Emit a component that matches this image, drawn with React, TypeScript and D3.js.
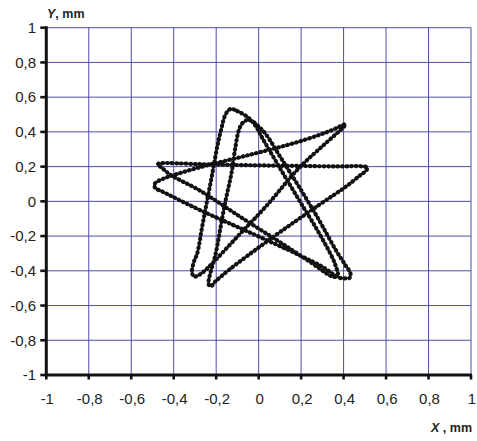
import React from "react";
import * as d3 from "d3";

// Axis ticks (both axes share the same range)
const TICK_VALUES = [-1, -0.8, -0.6, -0.4, -0.2, 0, 0.2, 0.4, 0.6, 0.8, 1];
const TICK_LABELS = ["-1", "-0,8", "-0,6", "-0,4", "-0,2", "0", "0,2", "0,4", "0,6", "0,8", "1"];

// Measured trajectory of the tool tip, mm (closed path)
const trajX = [
  -0.132, -0.101, -0.061, -0.032, -0.008, 0.017, 0.096, 0.19, 0.284, 0.35, 0.366, 0.373, 0.359, 0.336,
  0.252, 0.096, -0.093, -0.281, -0.414, -0.455, -0.476, -0.464,
  -0.281, -0.046, 0.19, 0.378, 0.482, 0.512, 0.505, 0.48,
  0.41, 0.284, 0.048, -0.14, -0.206, -0.225, -0.236, -0.232,
  -0.202, -0.179, -0.155, -0.128, -0.109, -0.093, -0.076, -0.054, -0.027, 0.001,
  0.033, 0.111, 0.19, 0.284, 0.363, 0.411, 0.432, 0.43, 0.406, 0.378,
  0.299, 0.19, -0.046, -0.266, -0.407, -0.454, -0.484, -0.493, -0.481, -0.446,
  -0.414, -0.281, -0.046, 0.19, 0.347, 0.392, 0.409, 0.402,
  0.315, 0.19, 0.033, -0.093, -0.218, -0.25, -0.281, -0.305, -0.314,
  -0.305, -0.289, -0.266, -0.242, -0.218, -0.195, -0.177, -0.155,
];
const trajY = [
  0.532, 0.52, 0.493, 0.463, 0.422, 0.365, 0.2, 0.008, -0.182, -0.332, -0.384, -0.418, -0.435, -0.427,
  -0.357, -0.232, -0.084, 0.065, 0.152, 0.192, 0.213, 0.219,
  0.214, 0.208, 0.204, 0.201, 0.202, 0.195, 0.175, 0.152,
  0.084, -0.021, -0.223, -0.395, -0.464, -0.49, -0.476, -0.436,
  -0.299, -0.146, 0.008, 0.162, 0.315, 0.411, 0.451, 0.468, 0.459, 0.43,
  0.388, 0.238, 0.084, -0.107, -0.28, -0.372, -0.413, -0.439, -0.444, -0.439,
  -0.376, -0.309, -0.177, -0.056, 0.028, 0.057, 0.074, 0.094, 0.111, 0.132,
  0.146, 0.195, 0.267, 0.344, 0.411, 0.437, 0.445, 0.431,
  0.334, 0.192, -0.031, -0.194, -0.357, -0.395, -0.424, -0.433, -0.407,
  -0.349, -0.299, -0.146, 0.008, 0.162, 0.315, 0.411, 0.503,
];

const W = 477;
const H = 441;
const PLOT = { left: 46.3, right: 471, top: 27.7, bottom: 375 };
const FONT = "'Liberation Sans', Arial, sans-serif";
const GRID = "#2f2f9a";

export default function App() {
  const x = d3.scaleLinear().domain([-1, 1]).range([PLOT.left, PLOT.right]);
  const y = d3.scaleLinear().domain([-1, 1]).range([PLOT.bottom, PLOT.top]);

  const idx = d3.range(trajX.length);
  const path = d3
    .line<number>()
    .x((i) => x(trajX[i]))
    .y((i) => y(trajY[i]))
    .curve(d3.curveCatmullRomClosed.alpha(0.5))(idx) as string;

  return (
    <svg
      width={W}
      height={H}
      viewBox={`0 0 ${W} ${H}`}
      style={{ position: "absolute", left: 0, top: 0, background: "#fff" }}
    >
      <rect x={0} y={0} width={W} height={H} fill="#fff" />

      {/* grid */}
      <g stroke={GRID} strokeWidth={1} opacity={0.85}>
        {TICK_VALUES.map((v) => (
          <line key={`gx${v}`} x1={x(v)} x2={x(v)} y1={PLOT.top} y2={PLOT.bottom} />
        ))}
        {TICK_VALUES.map((v) => (
          <line key={`gy${v}`} x1={PLOT.left} x2={PLOT.right} y1={y(v)} y2={y(v)} />
        ))}
      </g>

      {/* trajectory */}
      <path d={path} fill="none" stroke="#111" strokeWidth={1.6} strokeLinejoin="round" />
      <path
        d={path}
        fill="none"
        stroke="#111"
        strokeWidth={4.2}
        strokeDasharray="0.6 4"
        strokeLinecap="round"
      />

      {/* axes */}
      <g stroke="#111">
        <line x1={PLOT.left} x2={PLOT.left} y1={PLOT.top - 1.5} y2={PLOT.bottom + 1.5} strokeWidth={3} />
        <line x1={PLOT.left - 1.5} x2={PLOT.right + 1} y1={PLOT.bottom} y2={PLOT.bottom} strokeWidth={3} />
        {TICK_VALUES.map((v) => (
          <line key={`ty${v}`} x1={PLOT.left - 6} x2={PLOT.left} y1={y(v)} y2={y(v)} strokeWidth={2.6} />
        ))}
        {TICK_VALUES.map((v) => (
          <line key={`tx${v}`} x1={x(v)} x2={x(v)} y1={PLOT.bottom} y2={PLOT.bottom + 4.5} strokeWidth={2.6} />
        ))}
      </g>

      {/* tick labels */}
      <g fontFamily={FONT} fontSize={15} fill="#222">
        {TICK_VALUES.map((v, i) => (
          <text key={`ly${v}`} x={36} y={y(v)} dy="0.35em" textAnchor="end">
            {TICK_LABELS[i]}
          </text>
        ))}
        {TICK_VALUES.map((v, i) => (
          <text key={`lx${v}`} x={x(v) + 1} y={404} textAnchor="middle">
            {TICK_LABELS[i]}
          </text>
        ))}
      </g>

      {/* axis titles */}
      <text x={47} y={18} fontFamily={FONT} fontSize={12.5} fontWeight="bold" fill="#222">
        <tspan fontStyle="italic">Y</tspan>, mm
      </text>
      <text x={472} y={432} fontFamily={FONT} fontSize={12.5} fontWeight="bold" fill="#222" textAnchor="end">
        <tspan fontStyle="italic">X</tspan> , mm
      </text>
    </svg>
  );
}
